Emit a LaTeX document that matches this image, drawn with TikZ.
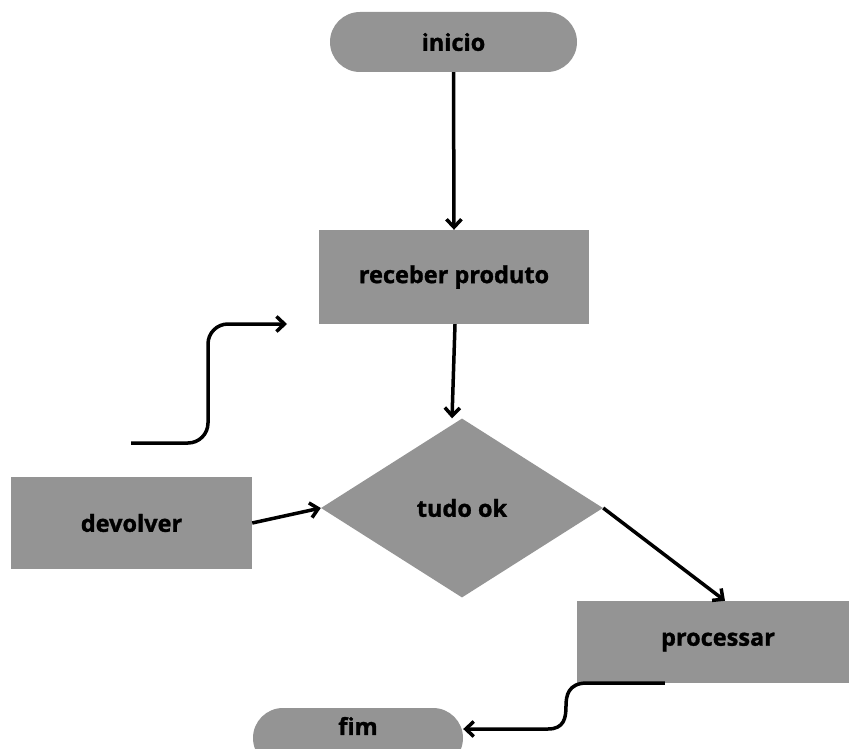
\documentclass[tikz,border=0pt]{standalone}
\usepackage{fontspec}
\setmainfont{Open Sans}[BoldFeatures={FakeBold=1.3}]
\usetikzlibrary{arrows.meta,shapes.geometric,calc}
\definecolor{boxgray}{RGB}{148,148,148}
\begin{document}
\begin{tikzpicture}[x=1pt,y=-1pt,
  every node/.style={font=\fontsize{23.5}{28}\selectfont\bfseries, text=black},
  box/.style={draw=none, fill=boxgray, rectangle, inner sep=0pt},
  terminal/.style={box, rounded corners=30pt, minimum height=60pt},
  decision/.style={draw=none, fill=boxgray, diamond, inner sep=0pt,
    minimum width=282pt, minimum height=179pt},
  flow/.style={line width=3.5pt, -{Straight Barb[length=8pt,width=15pt]}}]
\useasboundingbox (0,0) rectangle (849,749);

% process steps
\node[terminal, minimum width=247pt] (ini) at (453.5,42) {inicio};
\node[box, minimum width=270pt, minimum height=94pt] (rec) at (454,277) {receber produto};
\node[decision] (dia) at (462,508) {tudo ok};
\node[box, minimum width=241pt, minimum height=92pt] (dev) at (131.5,523) {devolver};
\node[box, minimum width=282pt, minimum height=82pt] (proc) at (718,642) {processar};
\node[terminal, minimum width=210pt] (fim) at (358,738) {};
\node[inner sep=0pt] (fimtxt) at (358,726) {fim};

% connectors
\draw[flow] (ini.south) -- (rec.north);
\draw[flow] ([xshift=1pt]rec.south) -- ([xshift=-10pt]dia.north);
\draw[flow] (dev.east) -- (dia.west);
\draw[flow] (dia.east) -- ([xshift=7pt]proc.north);

% loose return line on the left
\coordinate (loopA) at (131,443);
\coordinate (loopB) at (287,324);
\draw[flow, rounded corners=20pt] (loopA) -- (208,443) -- (208,324) -- (loopB);

% exit from processar to fim
\coordinate (exitA) at ($(proc.south west)+(88,0)$);
\draw[flow] (exitA) -- (587,683)
  .. controls (568,683) and (566,696) .. (566,706)
  .. controls (566,718) and (564,729) .. (548,729) -- (fim.east |- 0,729);
\end{tikzpicture}
\end{document}
